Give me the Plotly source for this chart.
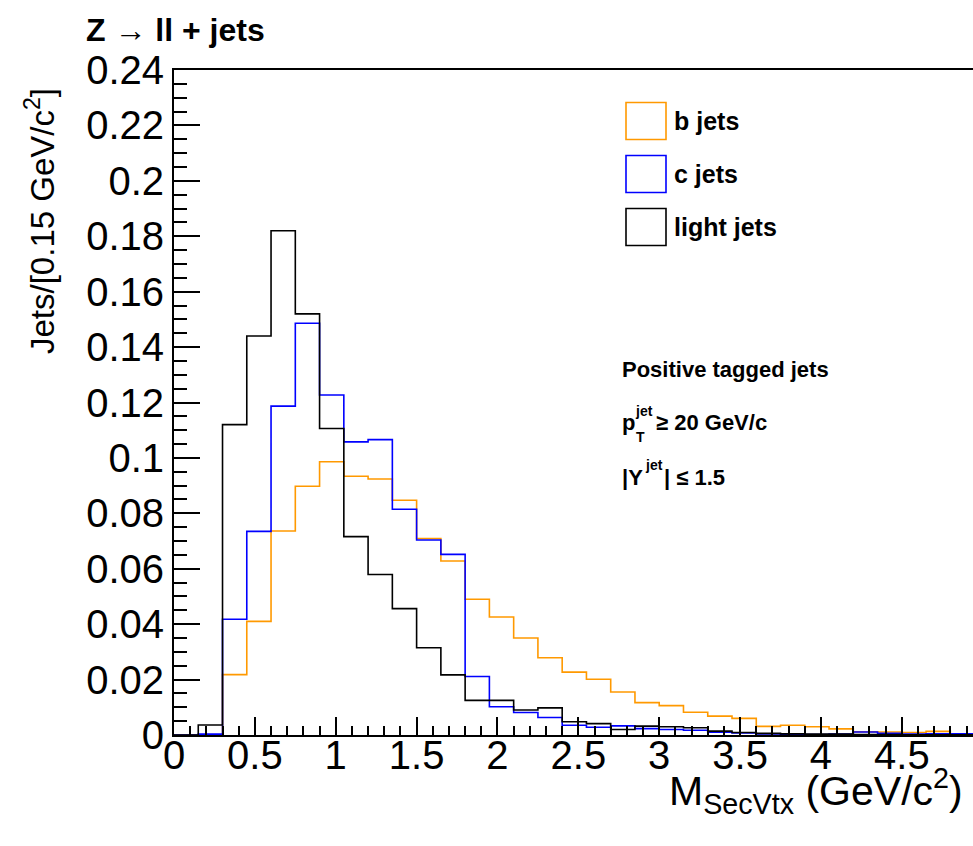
import numpy as np
import plotly.graph_objects as go

# ---- data ----
bin_width = 0.15
n_bins = 33
b_jets = [0, 0, 0.0218, 0.041, 0.0736, 0.0898, 0.0986, 0.0934, 0.0924, 0.0847,
          0.0709, 0.0628, 0.049, 0.0426, 0.035, 0.0279, 0.0227, 0.0201, 0.0155,
          0.0117, 0.0106, 0.0082, 0.0068, 0.006, 0.0031, 0.0035, 0.003, 0.0022,
          0.0012, 0.0011, 0.0009, 0.0013, 0.0004]
c_jets = [0, 0.0003, 0.0418, 0.0735, 0.1187, 0.1486, 0.1227, 0.1058, 0.1066,
          0.0815, 0.0704, 0.0652, 0.0211, 0.0102, 0.0081, 0.0063, 0.0035, 0.0028,
          0.0033, 0.0023, 0.002, 0.0017, 0.001, 0.0007, 0.0004, 0.0002, 0.0002,
          0.0003, 0.0011, 0.0006, 0.0003, 0.0004, 0.0004]
light_jets = [0, 0.0036, 0.112, 0.144, 0.182, 0.152, 0.1106, 0.0716, 0.0579,
              0.0456, 0.0315, 0.0217, 0.0125, 0.0125, 0.009, 0.0098, 0.0048,
              0.0041, 0.002, 0.0032, 0.003, 0.0026, 0.0014, 0.0009, 0.0006,
              0.0004, 0.0003, 0.0003, 0.0002, 0.0002, 0.0001, 0.0001, 0.0001]
series_names = ["b jets", "c jets", "light jets"]
series_colors = ["#FF9900", "#0000FF", "#000000"]
y_tickvals = [0, 0.02, 0.04, 0.06, 0.08, 0.1, 0.12, 0.14, 0.16, 0.18, 0.2, 0.22, 0.24]
y_ticktext = ["0", "0.02", "0.04", "0.06", "0.08", "0.1", "0.12", "0.14", "0.16",
              "0.18", "0.2", "0.22", "0.24"]
x_tickvals = [0, 0.5, 1, 1.5, 2, 2.5, 3, 3.5, 4, 4.5]
x_ticktext = ["0", "0.5", "1", "1.5", "2", "2.5", "3", "3.5", "4", "4.5"]

edges = np.arange(n_bins + 1) * bin_width

W, H = 973, 846
ML, MR, MT, MB = 174, 0, 70, 111
PW, PH = W - ML - MR, H - MT - MB
FONT = "Liberation Sans, Arial, Helvetica, sans-serif"


def px(x):
    return (x - ML) / PW


def py(y):
    return (MT + PH - y) / PH


fig = go.Figure()
for vals, name, col in zip([b_jets, c_jets, light_jets], series_names, series_colors):
    yv = list(vals) + [vals[-1]]
    fig.add_trace(go.Scatter(x=edges, y=yv, mode="lines", line_shape="hv",
                             line=dict(color=col, width=1.6), name=name,
                             showlegend=False, cliponaxis=True))

fig.update_layout(
    width=W, height=H,
    margin=dict(l=ML, r=MR, t=MT, b=MB, pad=0),
    paper_bgcolor="white", plot_bgcolor="white",
    font=dict(family=FONT, color="black"),
    showlegend=False,
)
fig.update_xaxes(range=[0, 4.94], showgrid=False, zeroline=False,
                 showline=True, linecolor="black", linewidth=2, mirror=True,
                 ticks="inside", ticklen=18, tickwidth=1.5, tickcolor="black",
                 tickvals=x_tickvals, ticktext=x_ticktext,
                 tickfont=dict(size=40, family=FONT), ticklabelstandoff=-16,
                 minor=dict(dtick=0.1, ticks="inside", ticklen=9, tickwidth=1.5,
                            tickcolor="black", showgrid=False))
fig.update_yaxes(range=[0, 0.24], showgrid=False, zeroline=False,
                 showline=True, linecolor="black", linewidth=2, mirror=False,
                 ticks="inside", ticklen=26, tickwidth=1.5, tickcolor="black",
                 tickvals=y_tickvals, ticktext=y_ticktext,
                 tickfont=dict(size=40, family=FONT), ticklabelstandoff=0,
                 minor=dict(dtick=0.005, ticks="inside", ticklen=13, tickwidth=1.5,
                            tickcolor="black", showgrid=False))

ann = []
# title
ann.append(dict(text="<b>Z → ll + jets</b>", x=px(84), y=py(30), xref="paper", yref="paper",
                xanchor="left", yanchor="middle", showarrow=False,
                font=dict(size=32, family=FONT)))
# y title
ann.append(dict(text="Jets/[0.15 GeV/c<sup>2</sup>]", x=px(40), y=py(86), xref="paper",
                yref="paper", xanchor="center", yanchor="top", textangle=-90,
                showarrow=False, font=dict(size=33, family=FONT)))
# x title
ann.append(dict(text="M<sub>SecVtx</sub> (GeV/c<sup>2</sup>)", x=px(965), y=py(791),
                xref="paper", yref="paper", xanchor="right", yanchor="middle",
                showarrow=False, font=dict(size=41, family=FONT)))

# legend boxes + labels
shapes = []
legend_y = [121, 174, 227]
for name, col, yc in zip(series_names, series_colors, legend_y):
    shapes.append(dict(type="rect", xref="paper", yref="paper",
                       x0=px(626), x1=px(666), y0=py(yc - 18.5), y1=py(yc + 18.5),
                       line=dict(color=col, width=1.6), fillcolor="white"))
    ann.append(dict(text="<b>%s</b>" % name, x=px(672), y=py(yc), xref="paper", yref="paper",
                    xanchor="left", yanchor="middle", showarrow=False,
                    font=dict(size=25, family=FONT)))

# info texts
info_font = dict(size=22, family=FONT)
small_font = dict(size=14, family=FONT)
ann.append(dict(text="<b>Positive tagged jets</b>", x=px(620), y=py(369), xref="paper",
                yref="paper", xanchor="left", yanchor="middle", showarrow=False, font=info_font))
ann.append(dict(text="<b>p</b>", x=px(620), y=py(423), xref="paper", yref="paper",
                xanchor="left", yanchor="middle", showarrow=False, font=info_font))
ann.append(dict(text="<b>jet</b>", x=px(633), y=py(411), xref="paper", yref="paper",
                xanchor="left", yanchor="middle", showarrow=False, font=small_font))
ann.append(dict(text="<b>T</b>", x=px(634), y=py(437), xref="paper", yref="paper",
                xanchor="left", yanchor="middle", showarrow=False, font=small_font))
ann.append(dict(text="<b>≥ 20 GeV/c</b>", x=px(654), y=py(423), xref="paper", yref="paper",
                xanchor="left", yanchor="middle", showarrow=False, font=info_font))
ann.append(dict(text="<b>|Y</b>", x=px(620), y=py(477), xref="paper", yref="paper",
                xanchor="left", yanchor="middle", showarrow=False, font=info_font))
ann.append(dict(text="<b>jet</b>", x=px(643), y=py(465), xref="paper", yref="paper",
                xanchor="left", yanchor="middle", showarrow=False, font=small_font))
ann.append(dict(text="<b>| ≤ 1.5</b>", x=px(662), y=py(477), xref="paper", yref="paper",
                xanchor="left", yanchor="middle", showarrow=False, font=info_font))

fig.update_layout(annotations=ann, shapes=shapes)
fig.write_html("out.html", config={"displayModeBar": False},
               post_script="document.body.style.margin='0px';document.body.style.overflow='hidden';")
